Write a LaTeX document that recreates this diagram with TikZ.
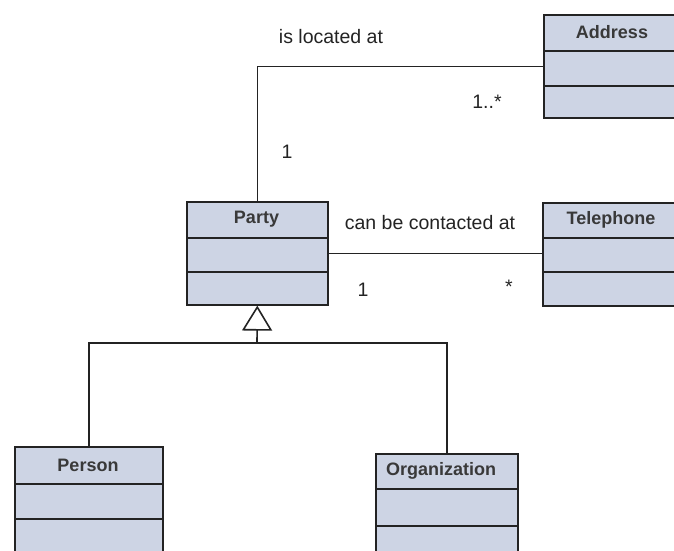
\documentclass[tikz,border=0pt]{standalone}
\usepackage{fontspec}
\setmainfont{Liberation Sans}
\usetikzlibrary{arrows.meta}
\definecolor{boxfill}{RGB}{205,212,228}
\definecolor{ink}{RGB}{35,35,35}
\tikzset{
  classbox/.style={draw=ink, fill=boxfill, line width=1.6pt, inner sep=0pt, anchor=north west},
  cname/.style={font=\fontsize{18}{20}\selectfont\bfseries, text=ink!90},
  lbl/.style={font=\fontsize{19.5}{22}\selectfont, text=ink},
  conn/.style={draw=ink, line width=1.6pt},
}
\begin{document}
\begin{tikzpicture}[x=1pt,y=-1pt]
\useasboundingbox (0,0) rectangle (674,550);
\clip (0,0) rectangle (674,550);
% classes
\node[classbox, minimum width=141pt, minimum height=103pt] (party) at (186,201) {};
\node[classbox, minimum width=141pt, minimum height=103pt] (address) at (543,14) {};
\node[classbox, minimum width=141pt, minimum height=103pt] (tel) at (542,202) {};
\node[classbox, minimum width=148pt, minimum height=115pt] (person) at (14,446) {};
\node[classbox, minimum width=142pt, minimum height=115pt] (org) at (375,453) {};
% compartments
\draw[conn] (party.west |- 0,238) -- (party.east |- 0,238);
\draw[conn] (party.west |- 0,272) -- (party.east |- 0,272);
\draw[conn] (address.west |- 0,51) -- (address.east |- 0,51);
\draw[conn] (address.west |- 0,86) -- (address.east |- 0,86);
\draw[conn] (tel.west |- 0,238) -- (tel.east |- 0,238);
\draw[conn] (tel.west |- 0,272) -- (tel.east |- 0,272);
\draw[conn] (person.west |- 0,484) -- (person.east |- 0,484);
\draw[conn] (person.west |- 0,519) -- (person.east |- 0,519);
\draw[conn] (org.west |- 0,489) -- (org.east |- 0,489);
\draw[conn] (org.west |- 0,526) -- (org.east |- 0,526);
% class names
\node[cname] (partyname) at (256.5,219) {Party};
\node[cname] (addrname) at (612,32) {Address};
\node[cname] (telname) at (611,220) {Telephone};
\node[cname] (personname) at (88,465) {Person};
\node[cname] (orgname) at (441,471) {Organization};
% associations
\draw[conn] (party.north) |- (address.west);
\draw[conn] (party.east) -- (party.east -| tel.west);
\node[lbl] (l1) at (331,37) {is located at};
\node[lbl] (m1) at (487,102) {1..*};
\node[lbl] (m2) at (287,152) {1};
\node[lbl] (l2) at (430,223) {can be contacted at};
\node[lbl] (m3) at (363,290) {1};
\node[lbl] (m4) at (509,287) {*};
% generalization
\coordinate (j) at (257,343);
\draw[conn, -{Triangle[open, length=25pt, width=30pt, line width=1.6pt]}] (j) -- (party.south);
\draw[conn] (person.north) |- (j) -| (org.north);
\end{tikzpicture}
\end{document}
